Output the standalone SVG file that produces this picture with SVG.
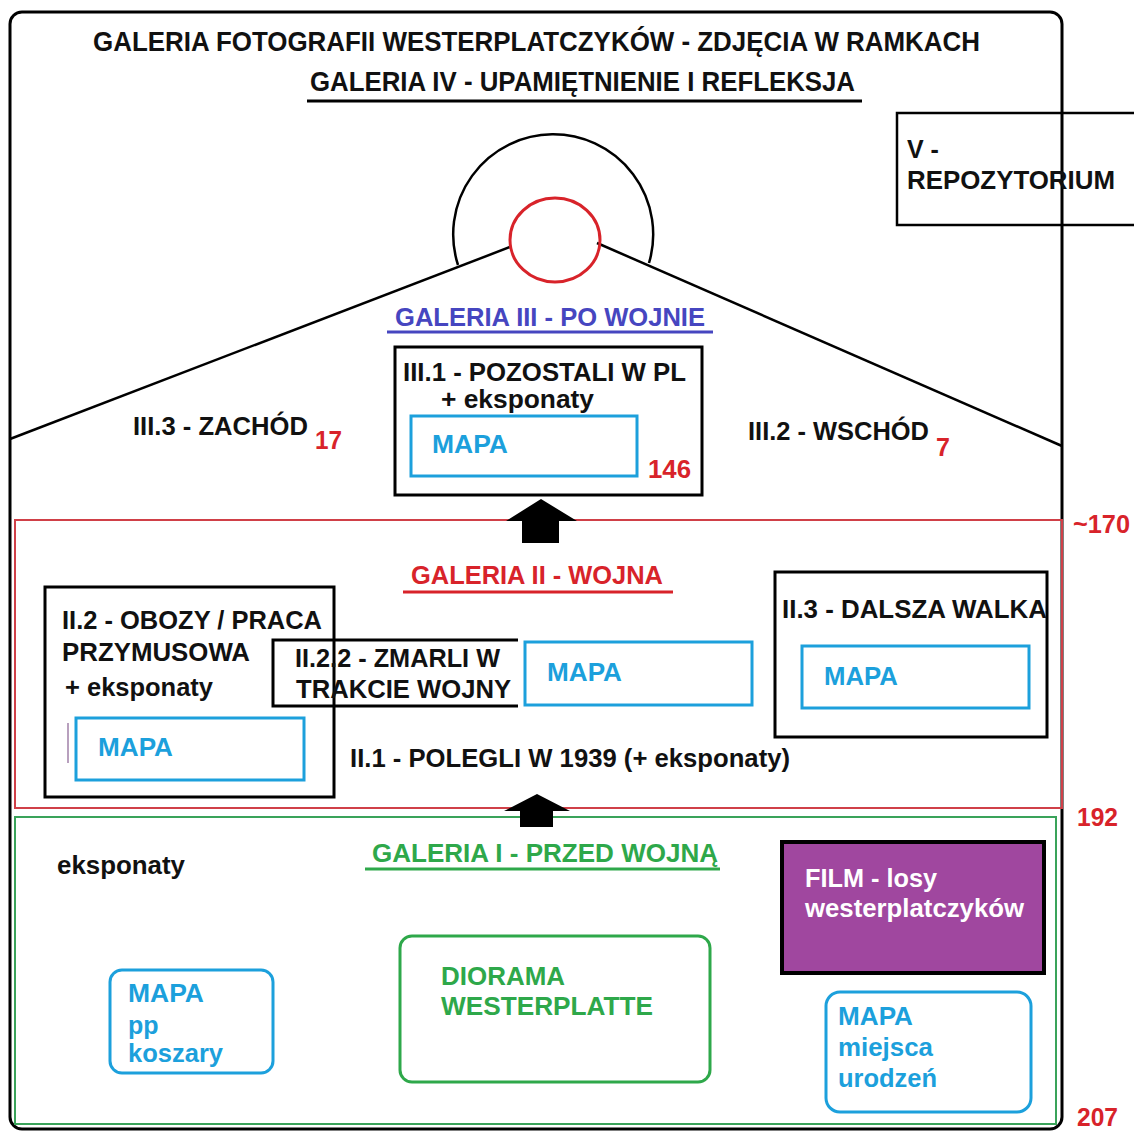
<svg xmlns="http://www.w3.org/2000/svg" width="1134" height="1131" viewBox="0 0 1134 1131">
<style>
text{font-family:"Liberation Sans",Arial,sans-serif;font-weight:bold;font-size:25px;fill:#111}
.t{font-size:28px}
.red{fill:#d8232a}
.blue{fill:#4646c0}
.green{fill:#2ea84a}
.cyan{fill:#1ca0dc}
.white{fill:#fff}
.bk{fill:none;stroke:#000;stroke-width:3}
.cy{fill:none;stroke:#1ca0dc;stroke-width:3}
</style>
<rect width="1134" height="1131" fill="#fff"/>
<g id="frame">
<rect x="10" y="12" width="1052" height="1117" rx="12" fill="none" stroke="#000" stroke-width="3"/>
</g>
<g id="titles">
<text class="t" x="93" y="51" textLength="887" lengthAdjust="spacingAndGlyphs">GALERIA FOTOGRAFII WESTERPLATCZYKÓW - ZDJĘCIA W RAMKACH</text>
<text class="t" x="310" y="91" textLength="545" lengthAdjust="spacingAndGlyphs">GALERIA IV - UPAMIĘTNIENIE I REFLEKSJA</text>
<line x1="307" y1="101" x2="862" y2="101" stroke="#000" stroke-width="3"/>
</g>
<g id="repozytorium">
<rect x="897" y="113" width="240" height="112" fill="none" stroke="#000" stroke-width="2.5"/>
<text x="907" y="158">V -</text>
<text x="907" y="189" textLength="208" lengthAdjust="spacingAndGlyphs">REPOZYTORIUM</text>
</g>
<g id="galeria3">
<path d="M 458 265 A 100 100 0 1 1 649 263" fill="none" stroke="#000" stroke-width="2.5"/>
<line x1="10" y1="439" x2="510" y2="247" stroke="#000" stroke-width="2.5"/>
<line x1="597" y1="243" x2="1062" y2="446" stroke="#000" stroke-width="2.5"/>
<ellipse cx="555" cy="240" rx="45" ry="42" fill="none" stroke="#d8232a" stroke-width="3"/>
<text class="blue" x="395" y="326" textLength="310" lengthAdjust="spacingAndGlyphs">GALERIA III - PO WOJNIE</text>
<line x1="387" y1="332" x2="713" y2="332" stroke="#4646c0" stroke-width="3"/>
<text x="133" y="435" textLength="175" lengthAdjust="spacingAndGlyphs">III.3 - ZACHÓD</text>
<text class="red" x="315" y="449" textLength="27" lengthAdjust="spacingAndGlyphs">17</text>
<text x="748" y="440" textLength="181" lengthAdjust="spacingAndGlyphs">III.2 - WSCHÓD</text>
<text class="red" x="936" y="456">7</text>
</g>
<g id="iii1">
<rect class="bk" x="395" y="347" width="307" height="148"/>
<text x="403" y="381" textLength="283" lengthAdjust="spacingAndGlyphs">III.1 - POZOSTALI W PL</text>
<text x="441" y="408" textLength="153" lengthAdjust="spacingAndGlyphs">+ eksponaty</text>
<rect class="cy" x="411" y="416" width="226" height="60"/>
<text class="cyan" x="432" y="453" textLength="76" lengthAdjust="spacingAndGlyphs">MAPA</text>
<text class="red" x="648" y="478" textLength="43" lengthAdjust="spacingAndGlyphs">146</text>
</g>
<g id="galeria2">
<rect x="15" y="520" width="1047" height="288" fill="none" stroke="#d04048" stroke-width="2"/>
<text class="red" x="1073" y="533" textLength="57" lengthAdjust="spacingAndGlyphs">~170</text>
<text class="red" x="411" y="584" textLength="252" lengthAdjust="spacingAndGlyphs">GALERIA II - WOJNA</text>
<line x1="403" y1="592" x2="673" y2="592" stroke="#d8232a" stroke-width="3"/>
<text x="350" y="767" textLength="440" lengthAdjust="spacingAndGlyphs">II.1 - POLEGLI W 1939 (+ eksponaty)</text>
<text class="red" x="1077" y="826" textLength="41" lengthAdjust="spacingAndGlyphs">192</text>
</g>
<g id="ii2">
<rect class="bk" x="45" y="587" width="289" height="210"/>
<text x="62" y="629" textLength="260" lengthAdjust="spacingAndGlyphs">II.2 - OBOZY / PRACA</text>
<text x="62" y="661" textLength="188" lengthAdjust="spacingAndGlyphs">PRZYMUSOWA</text>
<text x="65" y="696" textLength="148" lengthAdjust="spacingAndGlyphs">+ eksponaty</text>
<line x1="68" y1="723" x2="68" y2="763" stroke="#a080a8" stroke-width="1.5"/>
<rect class="cy" x="76" y="718" width="228" height="62"/>
<text class="cyan" x="98" y="756" textLength="75" lengthAdjust="spacingAndGlyphs">MAPA</text>
</g>
<g id="ii22">
<path d="M 518 640 H 273 V 706 H 518" class="bk"/>
<text x="295" y="667" textLength="205" lengthAdjust="spacingAndGlyphs">II.2.2 - ZMARLI W</text>
<text x="296" y="698" textLength="215" lengthAdjust="spacingAndGlyphs">TRAKCIE WOJNY</text>
<rect class="cy" x="525" y="642" width="227" height="63"/>
<text class="cyan" x="547" y="681" textLength="75" lengthAdjust="spacingAndGlyphs">MAPA</text>
</g>
<g id="ii3">
<rect class="bk" x="775" y="572" width="272" height="165"/>
<text x="782" y="618" textLength="265" lengthAdjust="spacingAndGlyphs">II.3 - DALSZA WALKA</text>
<rect class="cy" x="802" y="646" width="227" height="62"/>
<text class="cyan" x="824" y="685" textLength="74" lengthAdjust="spacingAndGlyphs">MAPA</text>
</g>
<g id="galeria1">
<rect x="15" y="817" width="1041" height="307" fill="none" stroke="#3aa35a" stroke-width="2"/>
<text class="green" x="372" y="862" textLength="346" lengthAdjust="spacingAndGlyphs">GALERIA I - PRZED WOJNĄ</text>
<line x1="365" y1="869" x2="720" y2="869" stroke="#2ea84a" stroke-width="3"/>
<text x="57" y="874" textLength="128" lengthAdjust="spacingAndGlyphs">eksponaty</text>
<text class="red" x="1077" y="1126" textLength="41" lengthAdjust="spacingAndGlyphs">207</text>
</g>
<g id="mapa-koszary">
<rect class="cy" x="110" y="970" width="163" height="103" rx="12"/>
<text class="cyan" x="128" y="1002" textLength="76" lengthAdjust="spacingAndGlyphs">MAPA</text>
<text class="cyan" x="128" y="1034">pp</text>
<text class="cyan" x="128" y="1062" textLength="95" lengthAdjust="spacingAndGlyphs">koszary</text>
</g>
<g id="diorama">
<rect x="400" y="936" width="310" height="146" rx="12" fill="none" stroke="#2ea84a" stroke-width="3"/>
<text class="green" x="441" y="985" textLength="124" lengthAdjust="spacingAndGlyphs">DIORAMA</text>
<text class="green" x="441" y="1015" textLength="212" lengthAdjust="spacingAndGlyphs">WESTERPLATTE</text>
</g>
<g id="film">
<rect x="782" y="842" width="262" height="131" fill="#a0479f" stroke="#000" stroke-width="4"/>
<text class="white" x="805" y="887" textLength="132" lengthAdjust="spacingAndGlyphs">FILM - losy</text>
<text class="white" x="805" y="917" textLength="219" lengthAdjust="spacingAndGlyphs">westerplatczyków</text>
</g>
<g id="mapa-urodzen">
<rect class="cy" x="826" y="992" width="205" height="120" rx="14"/>
<text class="cyan" x="838" y="1025" textLength="75" lengthAdjust="spacingAndGlyphs">MAPA</text>
<text class="cyan" x="838" y="1056" textLength="95" lengthAdjust="spacingAndGlyphs">miejsca</text>
<text class="cyan" x="838" y="1087" textLength="99" lengthAdjust="spacingAndGlyphs">urodzeń</text>
</g>
<g id="connectors">
<polygon points="541,499 577,521 559,521 559,543 522,543 522,521 506,521" fill="#000"/>
<polygon points="537,794 570,811 553,811 553,827 520,827 520,811 504,811" fill="#000"/>
</g>
</svg>
